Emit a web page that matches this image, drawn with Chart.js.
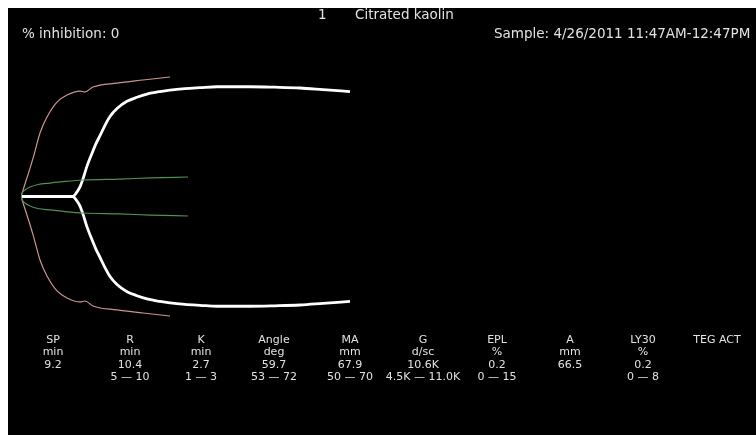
<!DOCTYPE html>
<html>
<head>
<meta charset="utf-8">
<script src="https://cdn.jsdelivr.net/npm/chart.js@4"></script>
<style>
  html, body { margin: 0; padding: 0; overflow: hidden; background: #fff; }
  #panel { position: absolute; left: 8px; top: 8px; width: 748px; height: 427px; background: #000; overflow: hidden; }
  #teg { position: absolute; left: 0; top: 0; }
  .txt { position: absolute; color: #e2e2e2; font-family: "DejaVu Sans", sans-serif; white-space: nowrap; }
  .big { font-size: 13.5px; line-height: 16px; }
  .col { font-size: 11px; line-height: 12.3px; text-align: center; width: 100px; }
</style>
</head>
<body>
<div id="panel">
  <canvas id="teg" width="748" height="427"></canvas>
</div>
<script>
// traces: time in minutes, full amplitude in mm
const sampleTime = [0, 10.4, 11, 11.8, 12.4, 13.2, 14.2, 15, 15.8, 16.8, 17.8, 19.2, 21.2, 23.2, 25.2, 27.8, 29.8, 32.8, 35.8, 39.2, 45.8, 50.8, 55.8, 60.4, 65.8];
const sampleAmp = [0, 0, 2, 6, 11, 19, 27, 33, 38, 44.5, 50, 55, 59.5, 62, 64, 65.6, 66.5, 67.4, 68, 68.6, 68.6, 68.3, 67.8, 66.8, 65.6];

const upperRefTime = [0, 2.4, 3.8, 5.2, 7.2, 9.2, 11.8, 12.8, 14.4, 19.2, 24.4, 29.8];
const upperRefAmp = [0, 23.8, 39.7, 49.7, 59, 63.4, 65.9, 65.3, 68.4, 70.9, 72.8, 74.7];

const lowerRefTime = [0, 0.2, 0.8, 1.8, 3.4, 5.8, 8.8, 12.4, 19.8, 25.8, 33.4];
const lowerRefAmp = [0, 1.9, 4.1, 5.9, 7.5, 8.4, 9.4, 10.3, 10.9, 11.6, 12.2];

// result table
const paramNames = ['SP', 'R', 'K', 'Angle', 'MA', 'G', 'EPL', 'A', 'LY30', 'TEG ACT'];
const paramUnits = ['min', 'min', 'min', 'deg', 'mm', 'd/sc', '%', 'mm', '%', ''];
const paramValues = ['9.2', '10.4', '2.7', '59.7', '67.9', '10.6K', '0.2', '66.5', '0.2', ''];
const paramRanges = ['', '5 \u2014 10', '1 \u2014 3', '53 \u2014 72', '50 \u2014 70', '4.5K \u2014 11.0K', '0 \u2014 15', '', '0 \u2014 8', ''];
const paramCenters = [53, 130, 201, 274, 350, 423, 497, 570, 643, 717];

function half(times, amps, sign) {
    return times.map((t, i) => ({ x: t, y: sign * amps[i] / 2 }));
}

function trace(times, amps, sign, color, width) {
    return {
        data: half(times, amps, sign),
        borderColor: color,
        borderWidth: width,
        pointRadius: 0,
        fill: false,
        cubicInterpolationMode: 'monotone'
    };
}

const ctx = document.getElementById('teg').getContext('2d');
new Chart(ctx, {
    type: 'line',
    data: {
        datasets: [
            trace(lowerRefTime, lowerRefAmp, 1, '#4f914f', 1.2),
            trace(lowerRefTime, lowerRefAmp, -1, '#4f914f', 1.2),
            trace(upperRefTime, upperRefAmp, 1, '#cc968c', 1.2),
            trace(upperRefTime, upperRefAmp, -1, '#cc968c', 1.2),
            trace(sampleTime, sampleAmp, 1, '#ffffff', 2.8),
            trace(sampleTime, sampleAmp, -1, '#ffffff', 2.8)
        ]
    },
    options: {
        responsive: false,
        animation: false,
        layout: { padding: { left: 13, right: 35, top: 60.5, bottom: 110.5 } },
        plugins: { legend: { display: false }, tooltip: { enabled: false } },
        scales: {
            x: { type: 'linear', min: 0, max: 140, display: false },
            y: { min: -40, max: 40, display: false }
        }
    }
});

// header texts
const panel = document.getElementById('panel');
function addText(cls, text, left, top) {
    const d = document.createElement('div');
    d.className = 'txt ' + cls;
    d.textContent = text;
    d.style.left = (left - 8) + 'px';
    d.style.top = (top - 8) + 'px';
    panel.appendChild(d);
    return d;
}
addText('big', '1', 318, 6);
addText('big', 'Citrated kaolin', 355, 6);
addText('big', '% inhibition: 0', 22, 25);
addText('big', 'Sample: 4/26/2011 11:47AM-12:47PM', 494, 25);

paramNames.forEach((name, i) => {
    const lines = [name, paramUnits[i], paramValues[i], paramRanges[i]];
    const d = addText('col', '', paramCenters[i] - 50, 334);
    d.innerHTML = lines.map(s => s === '' ? '&nbsp;' : s.replace(/&/g, '&amp;')).join('<br>');
});
</script>
</body>
</html>
